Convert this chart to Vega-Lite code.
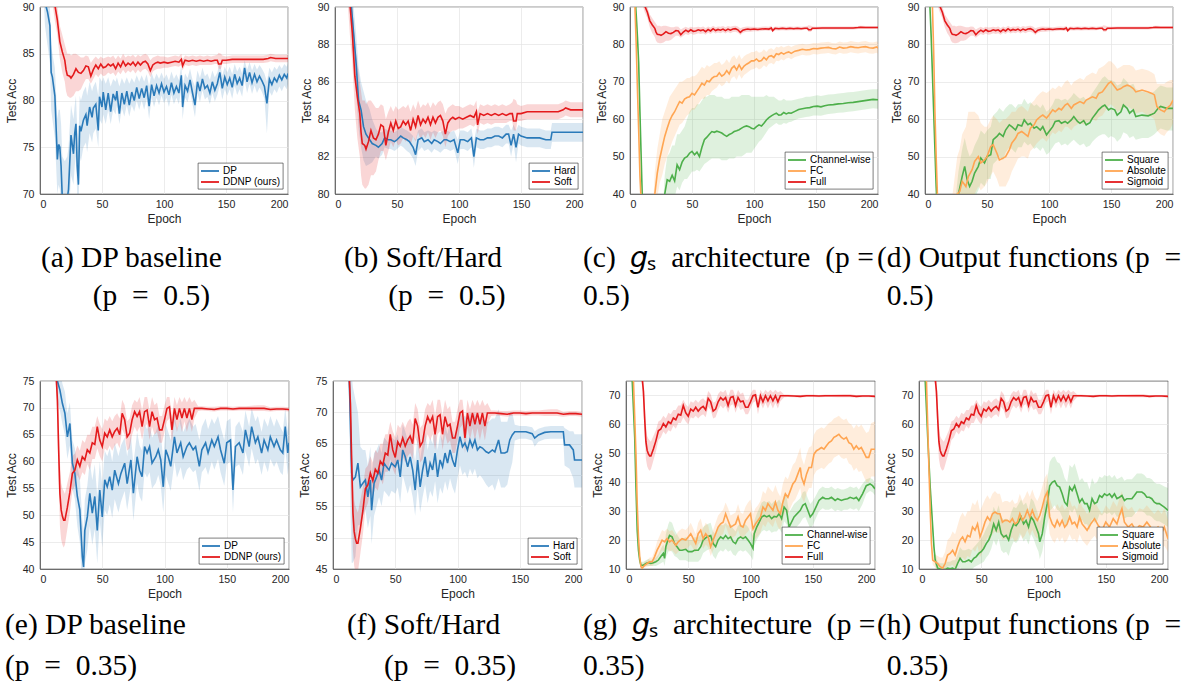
{
"$schema": "https://vega.github.io/schema/vega-lite/v6.json",
"background": "white",
"padding": {"left": 4, "top": 1, "right": 5, "bottom": 2},
"config": {
 "view": {"stroke": "#262626", "strokeWidth": 0.6},
 "axis": {"labelFont": "Liberation Sans", "labelFontSize": 10.6, "labelColor": "#262626", "titleFont": "Liberation Sans", "titleFontSize": 12, "titleFontWeight": "normal", "titleColor": "#262626", "domainColor": "#262626", "domainWidth": 0.6, "gridColor": "#e4e4e4", "gridWidth": 0.7, "ticks": false, "labelPadding": 6, "titlePadding": 4, "labelOverlap": false},
 "axisX": {"labelPadding": 5, "labelOverlap": false},
 "axisY": {"labelOverlap": false},
 "axisQuantitative": {"labelOverlap": false},
 "legend": {"orient": "bottom-right", "offset": 5, "padding": 2, "strokeColor": "#262626", "fillColor": "white", "symbolType": "M-1,0H2.6", "symbolSize": 100, "symbolStrokeWidth": 1.8, "labelFont": "Liberation Sans", "labelFontSize": 10, "labelColor": "black", "rowPadding": 0, "labelOffset": 11, "cornerRadius": 0, "strokeWidth": 0.6},
 "title": {"font": "Liberation Serif", "fontSize": 29.5, "fontWeight": "normal", "color": "black", "orient": "bottom", "anchor": "start", "frame": "group", "offset": 19}
},
"datasets": {
"A_DP": [{"x":1,"y":99,"l":97,"h":100},{"x":3,"y":94,"l":91,"h":96},{"x":4,"y":90.5,"l":88,"h":92},{"x":6,"y":89.5,"l":86,"h":91},{"x":8,"y":88,"l":84,"h":90},{"x":9,"y":83,"l":79,"h":86},{"x":10,"y":82.5,"l":78,"h":85},{"x":12,"y":80.5,"l":76,"h":83.5},{"x":14,"y":73.7,"l":70,"h":78},{"x":15,"y":75.3,"l":71,"h":79},{"x":16,"y":75,"l":70.5,"h":79},{"x":17,"y":73,"l":69,"h":77.5},{"x":18,"y":69.5,"l":66,"h":74},{"x":20,"y":69,"l":66,"h":73.5},{"x":22,"y":69.5,"l":66,"h":74},{"x":23,"y":70.5,"l":67,"h":75},{"x":25,"y":76.3,"l":72,"h":79.5},{"x":27,"y":74.3,"l":71,"h":78},{"x":28,"y":76.5,"l":73,"h":79.5},{"x":29,"y":77.5,"l":74,"h":80.5},{"x":30,"y":73,"l":70,"h":77},{"x":31,"y":71,"l":68,"h":76},{"x":32,"y":77.3,"l":74,"h":80.5},{"x":33,"y":76.7,"l":73.5,"h":80},{"x":35,"y":77.9,"l":75,"h":81},{"x":37,"y":78.5,"l":75.5,"h":81.5},{"x":38,"y":77.3,"l":74.5,"h":80.5},{"x":40,"y":79.3,"l":76.5,"h":82},{"x":42,"y":78.2,"l":75.5,"h":81},{"x":43,"y":79.2,"l":76.5,"h":81.5},{"x":45,"y":79.6,"l":77,"h":82},{"x":47,"y":76.8,"l":75,"h":80.5},{"x":48,"y":80.4,"l":78,"h":82.5},{"x":50,"y":79.3,"l":77.5,"h":82},{"x":51,"y":80.9,"l":78.5,"h":82.5},{"x":53,"y":79,"l":77.5,"h":81.8},{"x":55,"y":80.8,"l":79,"h":82.5},{"x":57,"y":78.8,"l":77.5,"h":81.5},{"x":59,"y":80.7,"l":79,"h":82.3},{"x":61,"y":80,"l":78.5,"h":82},{"x":62,"y":81,"l":79.5,"h":82.5},{"x":64,"y":78.6,"l":77.5,"h":81.5},{"x":66,"y":80.8,"l":79.2,"h":82.4},{"x":68,"y":79.6,"l":78.3,"h":81.8},{"x":70,"y":81,"l":79.5,"h":82.5},{"x":72,"y":79.5,"l":78.3,"h":81.8},{"x":74,"y":80.9,"l":79.5,"h":82.4},{"x":76,"y":80,"l":78.8,"h":81.9},{"x":78,"y":81.4,"l":80,"h":82.7},{"x":80,"y":80.2,"l":79,"h":82},{"x":82,"y":81.3,"l":80,"h":82.7},{"x":84,"y":80.3,"l":79,"h":82},{"x":86,"y":81.6,"l":80.2,"h":82.8},{"x":88,"y":79.4,"l":78,"h":81.5},{"x":90,"y":81.7,"l":80.3,"h":83},{"x":92,"y":80.5,"l":79.3,"h":82.2},{"x":94,"y":81.6,"l":80.3,"h":82.9},{"x":96,"y":80.8,"l":79.5,"h":82.3},{"x":98,"y":81.8,"l":80.5,"h":83},{"x":100,"y":80.9,"l":79.7,"h":82.3},{"x":102,"y":81.5,"l":80.3,"h":82.8},{"x":104,"y":80.6,"l":79.3,"h":82.1},{"x":106,"y":81.9,"l":80.6,"h":83.1},{"x":108,"y":80.8,"l":79.6,"h":82.3},{"x":110,"y":81.5,"l":80.3,"h":82.8},{"x":112,"y":80.8,"l":79.6,"h":82.2},{"x":114,"y":82.7,"l":81.3,"h":83.8},{"x":115,"y":79.3,"l":78,"h":81.5},{"x":117,"y":81.6,"l":80.3,"h":82.9},{"x":119,"y":81,"l":79.8,"h":82.4},{"x":121,"y":82.2,"l":81,"h":83.4},{"x":123,"y":80.8,"l":79.6,"h":82.2},{"x":125,"y":79.5,"l":78.2,"h":81.5},{"x":127,"y":82,"l":80.8,"h":83.2},{"x":129,"y":81,"l":79.8,"h":82.4},{"x":131,"y":82.3,"l":81.1,"h":83.5},{"x":133,"y":81.3,"l":80.1,"h":82.6},{"x":135,"y":81.6,"l":80.4,"h":82.9},{"x":137,"y":80.8,"l":79.6,"h":82.2},{"x":139,"y":82,"l":80.8,"h":83.2},{"x":141,"y":81.1,"l":79.9,"h":82.5},{"x":143,"y":81.8,"l":80.6,"h":83},{"x":145,"y":83,"l":81.6,"h":84.1},{"x":147,"y":81.3,"l":80.1,"h":82.7},{"x":149,"y":82.5,"l":81.2,"h":83.6},{"x":151,"y":81.7,"l":80.5,"h":83},{"x":153,"y":82.4,"l":81.2,"h":83.6},{"x":155,"y":81.4,"l":80.2,"h":82.8},{"x":157,"y":82.8,"l":81.6,"h":83.9},{"x":159,"y":81.8,"l":80.6,"h":83.1},{"x":161,"y":82.4,"l":81.2,"h":83.6},{"x":163,"y":81.6,"l":80.4,"h":82.9},{"x":165,"y":83.5,"l":82.2,"h":84.3},{"x":167,"y":82,"l":80.8,"h":83.3},{"x":169,"y":83,"l":81.8,"h":84.1},{"x":171,"y":81.9,"l":80.7,"h":83.2},{"x":173,"y":82.8,"l":81.6,"h":83.9},{"x":175,"y":82,"l":80.8,"h":83.3},{"x":177,"y":82.6,"l":81.4,"h":83.8},{"x":179,"y":82.1,"l":80.9,"h":83.4},{"x":181,"y":81.5,"l":80.2,"h":82.9},{"x":183,"y":79.7,"l":76.5,"h":82},{"x":185,"y":82.3,"l":81,"h":83.5},{"x":187,"y":81.7,"l":80.5,"h":83},{"x":189,"y":82.4,"l":81.2,"h":83.6},{"x":191,"y":82,"l":80.8,"h":83.3},{"x":193,"y":82.7,"l":81.5,"h":83.8},{"x":195,"y":82.2,"l":81,"h":83.4},{"x":197,"y":82.8,"l":81.6,"h":83.9},{"x":199,"y":82.4,"l":81.2,"h":83.6},{"x":200,"y":82.9,"l":81.8,"h":84}],
"R1": [{"x":1,"y":99,"l":98,"h":100},{"x":5,"y":96,"l":95,"h":97},{"x":10,"y":92,"l":90.5,"h":93.5},{"x":12,"y":90.2,"l":88.5,"h":91.5},{"x":14,"y":88.6,"l":87,"h":90},{"x":16,"y":86.3,"l":84.5,"h":88},{"x":18,"y":85.2,"l":83,"h":87},{"x":20,"y":84.3,"l":82,"h":86},{"x":21,"y":83.3,"l":81,"h":85.5},{"x":22,"y":82.7,"l":80.5,"h":85},{"x":24,"y":82.6,"l":80.3,"h":85},{"x":25,"y":82.4,"l":80.3,"h":84.8},{"x":27,"y":82.8,"l":80.5,"h":85},{"x":29,"y":83.4,"l":81,"h":85},{"x":31,"y":83,"l":81,"h":84.8},{"x":33,"y":82.9,"l":81.2,"h":84.6},{"x":35,"y":83.2,"l":81.8,"h":84.6},{"x":37,"y":83.7,"l":82.3,"h":84.8},{"x":39,"y":83.6,"l":82.3,"h":84.7},{"x":41,"y":82.6,"l":81.8,"h":84},{"x":43,"y":83.3,"l":82.3,"h":84.4},{"x":45,"y":83.8,"l":82.8,"h":84.7},{"x":47,"y":83.4,"l":82.5,"h":84.4},{"x":49,"y":83.9,"l":82.9,"h":84.7},{"x":51,"y":83.5,"l":82.6,"h":84.5},{"x":53,"y":83.6,"l":82.7,"h":84.6},{"x":55,"y":83.9,"l":83,"h":84.7},{"x":57,"y":83.7,"l":82.8,"h":84.6},{"x":59,"y":83.9,"l":83,"h":84.8},{"x":61,"y":83.4,"l":82.6,"h":84.4},{"x":63,"y":84,"l":83.1,"h":84.8},{"x":65,"y":83.6,"l":82.8,"h":84.5},{"x":67,"y":84.2,"l":83.3,"h":85},{"x":69,"y":83.7,"l":82.9,"h":84.6},{"x":71,"y":84,"l":83.2,"h":84.8},{"x":73,"y":83.8,"l":83,"h":84.7},{"x":75,"y":84.1,"l":83.3,"h":84.9},{"x":77,"y":83.7,"l":82.9,"h":84.6},{"x":79,"y":84.1,"l":83.3,"h":84.9},{"x":81,"y":83.8,"l":83,"h":84.7},{"x":83,"y":84.1,"l":83.3,"h":84.9},{"x":85,"y":84.2,"l":83.4,"h":85},{"x":87,"y":83.9,"l":83.1,"h":84.8},{"x":89,"y":83.2,"l":82.5,"h":84.3},{"x":91,"y":83.8,"l":83.1,"h":84.6},{"x":93,"y":84,"l":83.3,"h":84.7},{"x":95,"y":84.1,"l":83.4,"h":84.8},{"x":97,"y":84,"l":83.4,"h":84.7},{"x":100,"y":84.1,"l":83.5,"h":84.7},{"x":103,"y":84,"l":83.5,"h":84.6},{"x":106,"y":84.1,"l":83.6,"h":84.7},{"x":109,"y":84.2,"l":83.7,"h":84.8},{"x":112,"y":84.1,"l":83.6,"h":84.7},{"x":114,"y":84.4,"l":83.8,"h":85},{"x":115,"y":83.7,"l":83.2,"h":84.4},{"x":117,"y":84.3,"l":83.8,"h":84.8},{"x":120,"y":84.2,"l":83.7,"h":84.7},{"x":123,"y":84.3,"l":83.8,"h":84.8},{"x":126,"y":84.2,"l":83.7,"h":84.7},{"x":129,"y":84.3,"l":83.8,"h":84.8},{"x":132,"y":84.2,"l":83.8,"h":84.7},{"x":135,"y":84.3,"l":83.8,"h":84.8},{"x":138,"y":84.2,"l":83.8,"h":84.7},{"x":141,"y":84.3,"l":83.9,"h":84.8},{"x":143,"y":84.3,"l":83.9,"h":84.9},{"x":144,"y":83.9,"l":83.4,"h":85.1},{"x":146,"y":83.9,"l":83.4,"h":85},{"x":147,"y":84.3,"l":83.9,"h":84.8},{"x":150,"y":84.3,"l":83.9,"h":84.7},{"x":155,"y":84.4,"l":84,"h":84.8},{"x":160,"y":84.4,"l":84,"h":84.8},{"x":165,"y":84.4,"l":84,"h":84.8},{"x":170,"y":84.4,"l":84,"h":84.8},{"x":175,"y":84.4,"l":84,"h":84.8},{"x":180,"y":84.4,"l":84,"h":84.8},{"x":184,"y":84.5,"l":84.1,"h":84.9},{"x":186,"y":84.6,"l":84.2,"h":85},{"x":190,"y":84.5,"l":84.1,"h":84.9},{"x":195,"y":84.5,"l":84.1,"h":84.9},{"x":200,"y":84.5,"l":84.1,"h":84.9}],
"B_H": [{"x":1,"y":99,"l":98,"h":100},{"x":10,"y":93,"l":91.5,"h":94.5},{"x":13,"y":90.2,"l":88.7,"h":91.7},{"x":15,"y":88.6,"l":87.2,"h":90},{"x":17,"y":87,"l":85.5,"h":88.6},{"x":19,"y":85,"l":83.5,"h":86.8},{"x":21,"y":84.5,"l":82.5,"h":86},{"x":23,"y":83.6,"l":81.8,"h":85.5},{"x":25,"y":83.2,"l":81.5,"h":85},{"x":28,"y":82.9,"l":81.6,"h":84.5},{"x":30,"y":82.7,"l":81.7,"h":84},{"x":33,"y":82.6,"l":82,"h":83.5},{"x":35,"y":82.5,"l":81.9,"h":83.3},{"x":38,"y":82.7,"l":82.1,"h":83.3},{"x":40,"y":83,"l":82.5,"h":83.5},{"x":43,"y":82.9,"l":82.4,"h":83.4},{"x":45,"y":82.9,"l":82.4,"h":83.4},{"x":48,"y":82.8,"l":82.3,"h":83.3},{"x":50,"y":82.9,"l":82.4,"h":83.4},{"x":53,"y":83.1,"l":82.6,"h":83.6},{"x":55,"y":83,"l":82.5,"h":83.5},{"x":58,"y":82.9,"l":82.3,"h":83.4},{"x":60,"y":82.8,"l":82.2,"h":83.3},{"x":63,"y":82.5,"l":81.9,"h":83.1},{"x":65,"y":82.1,"l":81.5,"h":82.9},{"x":67,"y":82.9,"l":82.3,"h":83.4},{"x":70,"y":83,"l":82.5,"h":83.5},{"x":72,"y":82.8,"l":82.3,"h":83.3},{"x":75,"y":82.9,"l":82.4,"h":83.4},{"x":78,"y":82.7,"l":82.2,"h":83.3},{"x":80,"y":82.9,"l":82.4,"h":83.4},{"x":83,"y":82.8,"l":82.3,"h":83.3},{"x":85,"y":82.7,"l":82.2,"h":83.3},{"x":88,"y":82.9,"l":82.4,"h":83.4},{"x":90,"y":82.9,"l":82.4,"h":83.4},{"x":93,"y":82.8,"l":82.3,"h":83.3},{"x":96,"y":82.9,"l":82.4,"h":83.4},{"x":99,"y":82.2,"l":81.6,"h":82.9},{"x":101,"y":82.9,"l":82.4,"h":83.4},{"x":104,"y":82.9,"l":82.4,"h":83.4},{"x":107,"y":82.8,"l":82.3,"h":83.3},{"x":110,"y":83,"l":82.5,"h":83.5},{"x":112,"y":82,"l":81.4,"h":82.8},{"x":114,"y":83,"l":82.5,"h":83.5},{"x":117,"y":82.9,"l":82.4,"h":83.4},{"x":120,"y":82.9,"l":82.4,"h":83.4},{"x":123,"y":83,"l":82.5,"h":83.5},{"x":126,"y":83,"l":82.5,"h":83.5},{"x":129,"y":83.1,"l":82.6,"h":83.6},{"x":132,"y":83.1,"l":82.6,"h":83.6},{"x":135,"y":83,"l":82.5,"h":83.5},{"x":138,"y":83.2,"l":82.7,"h":83.7},{"x":140,"y":83.2,"l":82.7,"h":83.7},{"x":142,"y":82.6,"l":82,"h":83.4},{"x":144,"y":83.2,"l":82.7,"h":83.7},{"x":146,"y":82.5,"l":81.7,"h":83.4},{"x":148,"y":83.2,"l":82.7,"h":83.7},{"x":150,"y":83.1,"l":82.6,"h":83.6},{"x":155,"y":83,"l":82.5,"h":83.5},{"x":160,"y":83,"l":82.5,"h":83.5},{"x":165,"y":83,"l":82.5,"h":83.5},{"x":170,"y":82.9,"l":82.4,"h":83.4},{"x":174,"y":82.9,"l":82.4,"h":83.4},{"x":175,"y":83.3,"l":82.8,"h":83.8},{"x":180,"y":83.3,"l":82.8,"h":83.8},{"x":190,"y":83.3,"l":82.8,"h":83.8},{"x":200,"y":83.3,"l":82.8,"h":83.8}],
"C_CW": [{"x":1,"y":99,"l":98,"h":100},{"x":4,"y":93,"l":91,"h":95},{"x":5,"y":88,"l":86,"h":90},{"x":6,"y":82,"l":80,"h":84},{"x":7,"y":75,"l":73,"h":77},{"x":8,"y":62,"l":60,"h":64},{"x":9,"y":50,"l":48,"h":52},{"x":10,"y":38,"l":36,"h":40},{"x":12,"y":20,"l":18,"h":22},{"x":15,"y":12,"l":10,"h":14},{"x":20,"y":12,"l":10,"h":14},{"x":24,"y":20,"l":17,"h":23},{"x":27,"y":36,"l":33,"h":39},{"x":28,"y":40,"l":36,"h":45},{"x":30,"y":43.8,"l":39,"h":50},{"x":32,"y":43.4,"l":38.5,"h":51},{"x":34,"y":45,"l":40,"h":53},{"x":36,"y":43.5,"l":39,"h":53},{"x":38,"y":47.8,"l":42,"h":56},{"x":40,"y":46.5,"l":41,"h":56},{"x":42,"y":48.5,"l":43,"h":57},{"x":44,"y":49.6,"l":44,"h":58},{"x":46,"y":50,"l":44,"h":60},{"x":48,"y":50.9,"l":45,"h":62},{"x":50,"y":51.4,"l":46,"h":63},{"x":52,"y":50.5,"l":46,"h":63},{"x":54,"y":51.2,"l":46.5,"h":64},{"x":56,"y":50,"l":46,"h":64},{"x":58,"y":52.5,"l":47,"h":65},{"x":60,"y":54.5,"l":48,"h":66},{"x":62,"y":55.2,"l":48.5,"h":66},{"x":64,"y":56,"l":49,"h":66.5},{"x":66,"y":56.7,"l":49.5,"h":66.5},{"x":68,"y":56.5,"l":49.5,"h":66.5},{"x":70,"y":56.8,"l":49.5,"h":66},{"x":72,"y":56.6,"l":49.5,"h":66},{"x":74,"y":56.3,"l":49,"h":66},{"x":76,"y":55.8,"l":49,"h":65.5},{"x":78,"y":55.4,"l":49,"h":65.5},{"x":80,"y":55.9,"l":49.5,"h":65.5},{"x":82,"y":56.2,"l":49.5,"h":66},{"x":84,"y":56.7,"l":49.5,"h":66},{"x":86,"y":56.9,"l":50,"h":66},{"x":88,"y":57.2,"l":50,"h":66},{"x":90,"y":57.6,"l":50,"h":66.5},{"x":92,"y":58,"l":50.5,"h":66.5},{"x":94,"y":58.2,"l":51,"h":66.5},{"x":96,"y":58,"l":51,"h":66.5},{"x":98,"y":57.6,"l":51,"h":66},{"x":100,"y":57.4,"l":52,"h":66},{"x":102,"y":58,"l":53,"h":66},{"x":104,"y":58.5,"l":54,"h":66},{"x":106,"y":58.2,"l":54.5,"h":66},{"x":108,"y":58.9,"l":55.5,"h":66},{"x":110,"y":59.8,"l":56.5,"h":66.5},{"x":112,"y":60.4,"l":57.5,"h":66},{"x":114,"y":60.9,"l":58,"h":66},{"x":116,"y":61.3,"l":58.5,"h":66},{"x":118,"y":61.6,"l":59,"h":65.5},{"x":120,"y":61.1,"l":58.5,"h":65},{"x":122,"y":61.2,"l":58.5,"h":65},{"x":124,"y":61.8,"l":59,"h":65.5},{"x":126,"y":61.4,"l":58.8,"h":65},{"x":128,"y":61.7,"l":59.2,"h":65},{"x":130,"y":61.6,"l":59.3,"h":65},{"x":133,"y":62.1,"l":59.8,"h":65.2},{"x":136,"y":62.6,"l":60.2,"h":65.5},{"x":139,"y":62.8,"l":60.4,"h":65.7},{"x":142,"y":63,"l":60.6,"h":66},{"x":145,"y":63.1,"l":60.7,"h":66},{"x":148,"y":63.4,"l":61,"h":66.2},{"x":151,"y":63.5,"l":61,"h":66.4},{"x":154,"y":63.3,"l":60.9,"h":66.2},{"x":157,"y":63.6,"l":61.2,"h":66.4},{"x":160,"y":63.8,"l":61.4,"h":66.6},{"x":164,"y":63.9,"l":61.5,"h":66.7},{"x":168,"y":64.1,"l":61.7,"h":66.9},{"x":172,"y":64.2,"l":61.8,"h":67},{"x":176,"y":64.4,"l":62,"h":67.2},{"x":180,"y":64.5,"l":62.1,"h":67.3},{"x":184,"y":64.7,"l":62.3,"h":67.5},{"x":188,"y":64.9,"l":62.5,"h":67.7},{"x":192,"y":65.1,"l":62.7,"h":67.9},{"x":196,"y":65.3,"l":62.9,"h":68},{"x":200,"y":65.2,"l":62.8,"h":68}],
"C_FC": [{"x":1,"y":99,"l":98,"h":100},{"x":3,"y":95,"l":93,"h":97},{"x":4,"y":90,"l":88,"h":92},{"x":5,"y":80,"l":78,"h":82},{"x":6,"y":68,"l":66,"h":70},{"x":7,"y":57,"l":55,"h":59},{"x":8,"y":45,"l":43,"h":47},{"x":9,"y":38,"l":36,"h":40},{"x":12,"y":25,"l":23,"h":27},{"x":15,"y":20,"l":18,"h":22},{"x":18,"y":30,"l":27,"h":33},{"x":20,"y":40,"l":35,"h":46},{"x":22,"y":45.6,"l":39,"h":52},{"x":24,"y":49.5,"l":43,"h":56},{"x":26,"y":52.5,"l":45,"h":60},{"x":28,"y":55.4,"l":48,"h":62},{"x":30,"y":57.6,"l":50,"h":64},{"x":32,"y":59.6,"l":52,"h":66},{"x":34,"y":61,"l":54,"h":67},{"x":36,"y":62,"l":55.5,"h":68},{"x":38,"y":63.4,"l":57,"h":69},{"x":40,"y":64.7,"l":58.5,"h":70},{"x":42,"y":64.3,"l":59,"h":70},{"x":44,"y":65.4,"l":60,"h":70.5},{"x":46,"y":65.8,"l":61,"h":71},{"x":48,"y":66,"l":61.5,"h":71},{"x":50,"y":66.9,"l":62.5,"h":71.5},{"x":52,"y":66.5,"l":62.5,"h":71.5},{"x":54,"y":67.5,"l":63.5,"h":72},{"x":56,"y":68.5,"l":64.5,"h":73},{"x":58,"y":69.6,"l":65.5,"h":74},{"x":60,"y":69.1,"l":65.5,"h":73.5},{"x":62,"y":70.3,"l":66.5,"h":74.5},{"x":64,"y":70,"l":66.5,"h":74},{"x":66,"y":70.9,"l":67.5,"h":74.5},{"x":68,"y":71.4,"l":68,"h":75},{"x":70,"y":71.5,"l":68.5,"h":75},{"x":72,"y":72.4,"l":69.5,"h":75.5},{"x":74,"y":71.5,"l":68.8,"h":74.5},{"x":76,"y":72,"l":69.3,"h":75},{"x":78,"y":73,"l":70.3,"h":76},{"x":80,"y":72.1,"l":69.5,"h":75},{"x":82,"y":73.6,"l":71,"h":76.5},{"x":84,"y":74.2,"l":71.5,"h":77},{"x":86,"y":73.2,"l":70.5,"h":76},{"x":88,"y":74.5,"l":72,"h":77.3},{"x":90,"y":73.3,"l":70.8,"h":76},{"x":92,"y":74.2,"l":71.8,"h":76.8},{"x":94,"y":74.7,"l":72.3,"h":77.3},{"x":96,"y":75.1,"l":72.8,"h":77.6},{"x":98,"y":75.6,"l":73.3,"h":78},{"x":100,"y":75.6,"l":73.4,"h":78},{"x":102,"y":76.1,"l":73.9,"h":78.4},{"x":104,"y":75.5,"l":73.3,"h":77.8},{"x":106,"y":75.7,"l":73.6,"h":78},{"x":108,"y":76.5,"l":74.4,"h":78.7},{"x":110,"y":75.9,"l":73.9,"h":78},{"x":112,"y":76.8,"l":74.8,"h":78.8},{"x":114,"y":77,"l":75,"h":79},{"x":116,"y":76.5,"l":74.6,"h":78.5},{"x":118,"y":77.5,"l":75.6,"h":79.4},{"x":120,"y":77.3,"l":75.5,"h":79.2},{"x":122,"y":77.8,"l":76,"h":79.6},{"x":124,"y":77.4,"l":75.7,"h":79.2},{"x":126,"y":77.8,"l":76.2,"h":79.5},{"x":128,"y":78,"l":76.4,"h":79.7},{"x":130,"y":77.6,"l":76,"h":79.3},{"x":133,"y":78.2,"l":76.6,"h":79.8},{"x":136,"y":78.4,"l":76.9,"h":80},{"x":139,"y":78.7,"l":77.2,"h":80.2},{"x":142,"y":78.5,"l":77,"h":80},{"x":145,"y":78.6,"l":77.1,"h":80.1},{"x":148,"y":78.9,"l":77.4,"h":80.4},{"x":151,"y":78.8,"l":77.3,"h":80.3},{"x":154,"y":79,"l":77.5,"h":80.5},{"x":157,"y":79.1,"l":77.6,"h":80.6},{"x":160,"y":79.2,"l":77.7,"h":80.7},{"x":163,"y":78.9,"l":77.4,"h":80.4},{"x":166,"y":78.8,"l":77.3,"h":80.3},{"x":169,"y":79.3,"l":77.8,"h":80.8},{"x":172,"y":79,"l":77.5,"h":80.5},{"x":175,"y":79.1,"l":77.6,"h":80.6},{"x":178,"y":79.4,"l":77.9,"h":80.9},{"x":181,"y":79.2,"l":77.7,"h":80.7},{"x":184,"y":79.1,"l":77.6,"h":80.6},{"x":187,"y":79.3,"l":77.8,"h":80.8},{"x":190,"y":79.4,"l":77.9,"h":80.9},{"x":193,"y":79.1,"l":77.6,"h":80.6},{"x":196,"y":79,"l":77.5,"h":80.5},{"x":199,"y":79.3,"l":77.8,"h":80.8},{"x":200,"y":79,"l":77.5,"h":80.5}],
"D_SQ": [{"x":1,"y":99,"l":98,"h":100},{"x":3,"y":95,"l":93,"h":97},{"x":4,"y":90,"l":88,"h":92},{"x":5,"y":82,"l":80,"h":84},{"x":6,"y":72,"l":70,"h":74},{"x":7,"y":62,"l":60,"h":64},{"x":8,"y":52,"l":50,"h":54},{"x":9,"y":42,"l":40,"h":44},{"x":10,"y":35,"l":33,"h":37},{"x":15,"y":20,"l":17,"h":23},{"x":20,"y":25,"l":21,"h":29},{"x":25,"y":35,"l":30,"h":40},{"x":27,"y":40,"l":34,"h":46},{"x":30,"y":44.7,"l":38,"h":52},{"x":32,"y":47.4,"l":40,"h":55},{"x":34,"y":43.8,"l":37,"h":52},{"x":36,"y":42,"l":36,"h":50},{"x":38,"y":43.4,"l":37,"h":51},{"x":40,"y":45.6,"l":39,"h":53},{"x":43,"y":47.4,"l":41,"h":55},{"x":45,"y":49.6,"l":43,"h":57},{"x":48,"y":48.3,"l":42,"h":56},{"x":50,"y":50,"l":44,"h":57},{"x":53,"y":50.5,"l":44,"h":58},{"x":55,"y":54.5,"l":48,"h":61},{"x":58,"y":55.4,"l":49,"h":62},{"x":60,"y":56.2,"l":50,"h":63},{"x":63,"y":55.4,"l":49,"h":62},{"x":65,"y":57.1,"l":51,"h":63},{"x":68,"y":58.5,"l":52.5,"h":64},{"x":70,"y":58,"l":52,"h":64},{"x":73,"y":57.1,"l":51,"h":63},{"x":75,"y":58.5,"l":52.5,"h":64},{"x":78,"y":58.2,"l":52.5,"h":64},{"x":80,"y":59.8,"l":54,"h":65.5},{"x":83,"y":58.5,"l":53,"h":64},{"x":85,"y":58.9,"l":53.5,"h":64.5},{"x":88,"y":57.6,"l":52,"h":63.5},{"x":90,"y":58,"l":52.5,"h":64},{"x":93,"y":57.1,"l":51.5,"h":63},{"x":95,"y":58,"l":52.5,"h":64},{"x":98,"y":55.8,"l":50.5,"h":62},{"x":100,"y":56.7,"l":51,"h":62.5},{"x":103,"y":58,"l":52.5,"h":64},{"x":105,"y":59.4,"l":53.5,"h":65.5},{"x":108,"y":59.6,"l":54,"h":65.5},{"x":110,"y":58.9,"l":53,"h":65},{"x":113,"y":59.4,"l":53.5,"h":65.5},{"x":115,"y":58.9,"l":53,"h":65},{"x":118,"y":59.8,"l":54,"h":66},{"x":120,"y":60.7,"l":54.5,"h":67},{"x":123,"y":59.4,"l":53.5,"h":66},{"x":125,"y":58.9,"l":53,"h":65.5},{"x":128,"y":59.6,"l":53.5,"h":66},{"x":130,"y":58.5,"l":52.5,"h":65},{"x":133,"y":59.1,"l":53,"h":66},{"x":135,"y":60.3,"l":54,"h":67},{"x":138,"y":61.6,"l":55,"h":68.5},{"x":140,"y":62.5,"l":55.5,"h":69.5},{"x":143,"y":63.4,"l":56,"h":71},{"x":145,"y":63.8,"l":56,"h":71.5},{"x":148,"y":62.5,"l":55,"h":70.5},{"x":150,"y":62.9,"l":55.5,"h":70.5},{"x":153,"y":62.5,"l":55,"h":70},{"x":155,"y":61.1,"l":54,"h":69},{"x":158,"y":62,"l":55,"h":69.5},{"x":160,"y":63.8,"l":56.5,"h":71},{"x":163,"y":62.9,"l":56,"h":70},{"x":165,"y":61.6,"l":55,"h":69},{"x":168,"y":62.5,"l":55.5,"h":69.5},{"x":170,"y":60.7,"l":54.5,"h":68},{"x":175,"y":61.1,"l":55,"h":67.5},{"x":180,"y":60.9,"l":55,"h":67},{"x":183,"y":61.3,"l":55.5,"h":67},{"x":185,"y":61.6,"l":56,"h":67.5},{"x":188,"y":62.9,"l":57,"h":68.5},{"x":190,"y":63.4,"l":57.5,"h":69},{"x":195,"y":62.9,"l":57,"h":68.5},{"x":200,"y":62.9,"l":57,"h":68.5}],
"D_AB": [{"x":1,"y":99,"l":98,"h":100},{"x":5,"y":96,"l":94,"h":98},{"x":6,"y":90,"l":88,"h":92},{"x":7,"y":78,"l":76,"h":80},{"x":8,"y":62,"l":60,"h":64},{"x":9,"y":50,"l":48,"h":52},{"x":10,"y":40,"l":38,"h":42},{"x":11,"y":35,"l":33,"h":37},{"x":15,"y":22,"l":19,"h":25},{"x":20,"y":28,"l":22,"h":34},{"x":26,"y":40,"l":33,"h":50},{"x":28,"y":40.7,"l":33,"h":52},{"x":30,"y":43.4,"l":35,"h":56},{"x":33,"y":42,"l":34,"h":58},{"x":35,"y":44.7,"l":36,"h":62},{"x":38,"y":46.5,"l":38,"h":62},{"x":40,"y":48.7,"l":40,"h":62},{"x":43,"y":50,"l":42,"h":61},{"x":45,"y":48.3,"l":41,"h":59},{"x":48,"y":49.1,"l":42,"h":58},{"x":50,"y":50,"l":43,"h":58},{"x":53,"y":52.7,"l":45,"h":60},{"x":55,"y":53.2,"l":46,"h":61},{"x":58,"y":50.9,"l":44,"h":60},{"x":60,"y":49.1,"l":42,"h":59},{"x":63,"y":49.6,"l":42,"h":60},{"x":65,"y":50,"l":42,"h":60},{"x":68,"y":51.8,"l":44,"h":61},{"x":70,"y":53.6,"l":46,"h":62},{"x":73,"y":54.9,"l":48,"h":62},{"x":75,"y":56.2,"l":49.5,"h":63},{"x":78,"y":56.7,"l":50,"h":63.5},{"x":80,"y":56.2,"l":50,"h":63},{"x":83,"y":55.4,"l":49.5,"h":62},{"x":85,"y":57.6,"l":51.5,"h":64},{"x":88,"y":58.5,"l":52.5,"h":65},{"x":90,"y":59.8,"l":53.5,"h":66},{"x":93,"y":60.7,"l":54.5,"h":67},{"x":95,"y":61.1,"l":55,"h":67.5},{"x":98,"y":60.3,"l":54,"h":67},{"x":100,"y":61.1,"l":55,"h":67.5},{"x":103,"y":62.5,"l":56.5,"h":68.5},{"x":105,"y":62,"l":56,"h":68},{"x":108,"y":62.9,"l":57,"h":69},{"x":110,"y":62.5,"l":56.5,"h":68.5},{"x":113,"y":63.8,"l":58,"h":70},{"x":115,"y":64.2,"l":58,"h":70.5},{"x":118,"y":62.9,"l":57,"h":69},{"x":120,"y":63.8,"l":58,"h":70},{"x":125,"y":64.7,"l":59,"h":71},{"x":128,"y":64.2,"l":58.5,"h":70.5},{"x":130,"y":65.1,"l":59,"h":71.5},{"x":135,"y":66,"l":60,"h":72.5},{"x":138,"y":65.6,"l":59.5,"h":72},{"x":140,"y":66.9,"l":60.5,"h":73.5},{"x":143,"y":67.3,"l":61,"h":74},{"x":145,"y":68.2,"l":62,"h":74.5},{"x":148,"y":69.6,"l":63.5,"h":75.5},{"x":150,"y":70,"l":64,"h":75.5},{"x":153,"y":68.7,"l":63,"h":74.5},{"x":155,"y":67.8,"l":62,"h":73.5},{"x":158,"y":68.2,"l":62.5,"h":74},{"x":160,"y":68.7,"l":63,"h":74.5},{"x":163,"y":69.1,"l":63.5,"h":74.5},{"x":165,"y":68.9,"l":63,"h":74.5},{"x":168,"y":68.2,"l":62.5,"h":74},{"x":170,"y":67.3,"l":61.5,"h":73},{"x":175,"y":67.8,"l":62,"h":73.5},{"x":180,"y":67.3,"l":61,"h":73},{"x":183,"y":66.9,"l":60.5,"h":72.5},{"x":185,"y":66.5,"l":60,"h":72},{"x":187,"y":63.4,"l":57,"h":69.5},{"x":190,"y":62.5,"l":56,"h":69.5},{"x":193,"y":62,"l":55.5,"h":69.5},{"x":195,"y":62.9,"l":56.5,"h":70},{"x":198,"y":63.8,"l":57.5,"h":70.5},{"x":200,"y":65.1,"l":59,"h":70.5}],
"R2": [{"x":1,"y":95,"l":94,"h":96},{"x":10,"y":85,"l":83,"h":87},{"x":13,"y":76,"l":73,"h":79},{"x":14,"y":71.4,"l":67,"h":75},{"x":15,"y":62,"l":56,"h":68},{"x":16,"y":54,"l":48,"h":60},{"x":17,"y":51,"l":45.5,"h":56},{"x":18,"y":49.8,"l":44.5,"h":55},{"x":19,"y":49.1,"l":44,"h":54.5},{"x":20,"y":49.1,"l":44.5,"h":54},{"x":21,"y":50.3,"l":46,"h":55},{"x":22,"y":51.5,"l":47.5,"h":56},{"x":24,"y":54.3,"l":50.5,"h":58},{"x":26,"y":57.8,"l":54.5,"h":61},{"x":28,"y":58.4,"l":55.5,"h":61.5},{"x":30,"y":60.3,"l":57.5,"h":63},{"x":32,"y":59.1,"l":56.5,"h":62},{"x":34,"y":60.9,"l":58,"h":64},{"x":36,"y":60.3,"l":57.5,"h":63.5},{"x":38,"y":62.2,"l":59.5,"h":65},{"x":40,"y":61.6,"l":58.5,"h":65},{"x":42,"y":63.5,"l":60.5,"h":66.5},{"x":44,"y":63.2,"l":60.5,"h":66.5},{"x":46,"y":66.5,"l":62.5,"h":68.5},{"x":48,"y":64,"l":61,"h":67},{"x":50,"y":62.8,"l":60,"h":66},{"x":52,"y":65.3,"l":62.5,"h":68},{"x":54,"y":64.6,"l":62,"h":67.5},{"x":56,"y":65.9,"l":63,"h":68.5},{"x":58,"y":64.6,"l":62,"h":67.5},{"x":60,"y":65.6,"l":63,"h":68.5},{"x":62,"y":66.2,"l":63.5,"h":69},{"x":64,"y":65,"l":62.5,"h":68},{"x":66,"y":69,"l":66,"h":71.5},{"x":68,"y":67.8,"l":65,"h":70.5},{"x":70,"y":64.6,"l":62,"h":67.5},{"x":72,"y":65.3,"l":62.5,"h":68},{"x":74,"y":67.8,"l":65,"h":70.5},{"x":76,"y":69.3,"l":66.5,"h":71.5},{"x":78,"y":68.4,"l":65.5,"h":71},{"x":80,"y":69.3,"l":66.5,"h":72},{"x":82,"y":66.5,"l":64,"h":69.5},{"x":84,"y":69.3,"l":66.5,"h":72},{"x":86,"y":69.6,"l":67,"h":72},{"x":88,"y":66.5,"l":64,"h":69.5},{"x":90,"y":69.3,"l":66.5,"h":72},{"x":92,"y":67.8,"l":65,"h":70.5},{"x":94,"y":68.1,"l":65.5,"h":71},{"x":96,"y":65.9,"l":63.5,"h":68.5},{"x":98,"y":65.9,"l":63.5,"h":68.5},{"x":100,"y":67.8,"l":65.5,"h":70.5},{"x":102,"y":69.9,"l":67.5,"h":72},{"x":104,"y":70.2,"l":68,"h":72},{"x":106,"y":65.9,"l":63.5,"h":68.5},{"x":108,"y":69.9,"l":67.5,"h":72},{"x":110,"y":67.8,"l":65.5,"h":70.5},{"x":112,"y":69.9,"l":67.5,"h":72},{"x":114,"y":68.1,"l":65.5,"h":71},{"x":116,"y":69.9,"l":67.5,"h":72},{"x":118,"y":68.1,"l":65.5,"h":71},{"x":120,"y":69.9,"l":67.5,"h":72},{"x":122,"y":67.8,"l":65.5,"h":71},{"x":124,"y":69.9,"l":68,"h":71.5},{"x":127,"y":69.9,"l":69.4,"h":70.3},{"x":130,"y":69.9,"l":69.5,"h":70.3},{"x":135,"y":69.8,"l":69.4,"h":70.2},{"x":140,"y":69.7,"l":69.3,"h":70.2},{"x":145,"y":69.9,"l":69.5,"h":70.3},{"x":150,"y":69.9,"l":69.5,"h":70.3},{"x":155,"y":69.8,"l":69.4,"h":70.2},{"x":160,"y":69.9,"l":69.5,"h":70.3},{"x":165,"y":69.9,"l":69.5,"h":70.3},{"x":170,"y":69.9,"l":69.4,"h":70.4},{"x":175,"y":69.9,"l":69.4,"h":70.5},{"x":180,"y":69.9,"l":69.4,"h":70.5},{"x":185,"y":69.7,"l":69.3,"h":70.1},{"x":190,"y":69.8,"l":69.4,"h":70.2},{"x":195,"y":69.8,"l":69.4,"h":70.2},{"x":200,"y":69.7,"l":69.3,"h":70.1}],
"E_DP": [{"x":1,"y":95,"l":93,"h":97},{"x":10,"y":85,"l":82,"h":88},{"x":14,"y":75,"l":71,"h":79},{"x":16,"y":73.3,"l":69.5,"h":77},{"x":18,"y":70.8,"l":67,"h":74.5},{"x":20,"y":69,"l":65,"h":73},{"x":22,"y":64.6,"l":60.5,"h":69},{"x":24,"y":67.1,"l":63,"h":71},{"x":26,"y":59.7,"l":55,"h":64},{"x":28,"y":57.8,"l":53,"h":62.5},{"x":30,"y":53.5,"l":48,"h":59},{"x":32,"y":51,"l":45,"h":57},{"x":34,"y":42.3,"l":36,"h":49},{"x":35,"y":40.4,"l":34,"h":47},{"x":36,"y":47.2,"l":41,"h":53},{"x":38,"y":49.7,"l":43.5,"h":55.5},{"x":40,"y":54.1,"l":48,"h":60},{"x":42,"y":50.4,"l":44.5,"h":56.5},{"x":44,"y":53.5,"l":47.5,"h":59.5},{"x":46,"y":47.2,"l":41,"h":53.5},{"x":48,"y":54.7,"l":49,"h":60},{"x":50,"y":49.7,"l":44,"h":55.5},{"x":52,"y":56.6,"l":51,"h":62},{"x":54,"y":55.3,"l":50,"h":61},{"x":56,"y":57.2,"l":52,"h":62.5},{"x":58,"y":54.7,"l":49.5,"h":60},{"x":60,"y":58.4,"l":53,"h":63.5},{"x":63,"y":55.9,"l":50.5,"h":61},{"x":65,"y":57.8,"l":52.5,"h":63},{"x":68,"y":59.7,"l":54.5,"h":64.5},{"x":70,"y":55.9,"l":51,"h":61},{"x":73,"y":60.3,"l":55.5,"h":65},{"x":75,"y":54.1,"l":49,"h":59.5},{"x":78,"y":60.9,"l":56,"h":65.5},{"x":80,"y":58.4,"l":53.5,"h":63},{"x":82,"y":57.2,"l":52.5,"h":62},{"x":84,"y":62.8,"l":58,"h":67},{"x":86,"y":61.6,"l":57,"h":66},{"x":88,"y":62.8,"l":58,"h":67},{"x":90,"y":59.7,"l":55,"h":64.5},{"x":93,"y":60.9,"l":56,"h":65.5},{"x":95,"y":62.2,"l":57.5,"h":67},{"x":97,"y":60.3,"l":55.5,"h":65},{"x":99,"y":55.3,"l":50.5,"h":60.5},{"x":101,"y":62.2,"l":57.5,"h":67},{"x":103,"y":60.9,"l":56,"h":65.5},{"x":105,"y":59.1,"l":54.5,"h":64},{"x":108,"y":64.6,"l":60,"h":69},{"x":110,"y":61.6,"l":57,"h":66},{"x":113,"y":63.5,"l":59,"h":68},{"x":115,"y":60.9,"l":56.5,"h":65.5},{"x":118,"y":62.8,"l":58.5,"h":67},{"x":120,"y":63.5,"l":59,"h":68},{"x":123,"y":62.2,"l":58,"h":66.5},{"x":125,"y":62.8,"l":58.5,"h":67},{"x":128,"y":59.1,"l":54.5,"h":64},{"x":130,"y":62.2,"l":58,"h":66.5},{"x":133,"y":63.5,"l":59,"h":68},{"x":135,"y":61.6,"l":57.5,"h":66},{"x":138,"y":64,"l":60,"h":68},{"x":140,"y":62.8,"l":58.5,"h":67},{"x":143,"y":64.6,"l":60.5,"h":68.5},{"x":145,"y":62.2,"l":58,"h":66.5},{"x":148,"y":59.7,"l":55.5,"h":64},{"x":150,"y":63.5,"l":59.5,"h":67.5},{"x":153,"y":64,"l":60,"h":68},{"x":155,"y":54.7,"l":50.5,"h":59},{"x":157,"y":62.8,"l":59,"h":66.5},{"x":160,"y":63.5,"l":59.5,"h":67.5},{"x":163,"y":61.6,"l":57.5,"h":65.5},{"x":165,"y":65.9,"l":62,"h":69.5},{"x":168,"y":62.8,"l":59,"h":66.5},{"x":170,"y":66.5,"l":62.5,"h":70},{"x":173,"y":63.5,"l":59.5,"h":67.5},{"x":175,"y":64.6,"l":60.5,"h":68.5},{"x":178,"y":61.6,"l":57.5,"h":65.5},{"x":180,"y":64,"l":60,"h":68},{"x":183,"y":62.2,"l":58,"h":66.5},{"x":185,"y":64.6,"l":60.5,"h":68.5},{"x":188,"y":62.8,"l":59,"h":66.5},{"x":190,"y":64,"l":60,"h":68},{"x":193,"y":62.2,"l":58,"h":66.5},{"x":195,"y":61.6,"l":57.5,"h":65.5},{"x":197,"y":66.5,"l":62.5,"h":70},{"x":199,"y":61.6,"l":57.5,"h":65.5},{"x":200,"y":63.5,"l":59.5,"h":67.5}],
"F_H": [{"x":1,"y":95,"l":93,"h":97},{"x":10,"y":85,"l":82,"h":88},{"x":13,"y":76,"l":72,"h":80},{"x":14,"y":68,"l":55,"h":77},{"x":15,"y":60.3,"l":46,"h":76},{"x":16,"y":59.2,"l":46,"h":74},{"x":18,"y":59.7,"l":47,"h":72},{"x":20,"y":61.9,"l":52,"h":70},{"x":22,"y":58.1,"l":52,"h":64.5},{"x":24,"y":58.7,"l":53.5,"h":64},{"x":26,"y":59.2,"l":54.5,"h":64},{"x":28,"y":56.5,"l":51.5,"h":61.5},{"x":30,"y":59.2,"l":53.5,"h":64.5},{"x":31,"y":54.4,"l":49,"h":60},{"x":33,"y":58.7,"l":53.5,"h":63.5},{"x":35,"y":59.7,"l":55,"h":64},{"x":37,"y":60.8,"l":56.5,"h":65},{"x":39,"y":59.2,"l":55,"h":63.5},{"x":41,"y":61.9,"l":57.5,"h":66},{"x":43,"y":61.3,"l":57,"h":65.5},{"x":45,"y":60.8,"l":56.5,"h":65},{"x":47,"y":61.9,"l":57.5,"h":66},{"x":50,"y":61.3,"l":57,"h":65.5},{"x":52,"y":62.4,"l":58,"h":66.5},{"x":54,"y":59.7,"l":55.5,"h":64},{"x":56,"y":64,"l":60,"h":68},{"x":58,"y":62.9,"l":58.5,"h":67},{"x":60,"y":61.3,"l":57,"h":65.5},{"x":62,"y":62.9,"l":58.5,"h":67},{"x":64,"y":60.8,"l":56.5,"h":65},{"x":66,"y":57.6,"l":53.5,"h":62},{"x":68,"y":62.4,"l":58,"h":66.5},{"x":70,"y":58.1,"l":54,"h":62.5},{"x":72,"y":60.8,"l":56.5,"h":65},{"x":74,"y":62.9,"l":58.5,"h":67},{"x":76,"y":59.7,"l":55.5,"h":64},{"x":78,"y":61.9,"l":57.5,"h":66},{"x":80,"y":60.8,"l":56.5,"h":65},{"x":82,"y":63.5,"l":59,"h":68},{"x":84,"y":59.7,"l":55.5,"h":64},{"x":86,"y":62.4,"l":58,"h":66.5},{"x":88,"y":61.3,"l":57,"h":65.5},{"x":90,"y":63.5,"l":59,"h":68},{"x":92,"y":61.9,"l":57.5,"h":66.5},{"x":94,"y":64,"l":59.5,"h":68.5},{"x":96,"y":62.4,"l":58,"h":67},{"x":98,"y":61.3,"l":57,"h":66},{"x":100,"y":64,"l":59.5,"h":68.5},{"x":102,"y":66.1,"l":61.5,"h":70.5},{"x":104,"y":64.5,"l":60,"h":69},{"x":106,"y":65.1,"l":60.5,"h":69.5},{"x":108,"y":64,"l":59.5,"h":68.5},{"x":110,"y":65.6,"l":61,"h":70},{"x":112,"y":64.5,"l":60,"h":69},{"x":114,"y":65.6,"l":61,"h":70},{"x":116,"y":64,"l":59.5,"h":68.5},{"x":118,"y":64.5,"l":60,"h":69},{"x":120,"y":64.3,"l":59.5,"h":69},{"x":123,"y":63.7,"l":58.5,"h":68.5},{"x":125,"y":63.5,"l":58,"h":68.5},{"x":128,"y":64,"l":58.5,"h":69},{"x":130,"y":63.7,"l":57.5,"h":69},{"x":133,"y":65.6,"l":59.5,"h":70.5},{"x":135,"y":63.5,"l":58,"h":68.5},{"x":138,"y":63.5,"l":58,"h":68.5},{"x":140,"y":63.7,"l":58.5,"h":68.5},{"x":142,"y":65.6,"l":60.5,"h":70},{"x":144,"y":66.4,"l":62,"h":70},{"x":146,"y":66.9,"l":65.5,"h":68},{"x":150,"y":66.9,"l":65.8,"h":67.8},{"x":155,"y":66.9,"l":65.8,"h":67.8},{"x":160,"y":66.6,"l":65.5,"h":67.6},{"x":162,"y":65.9,"l":64.5,"h":67},{"x":165,"y":66.4,"l":65.3,"h":67.4},{"x":170,"y":66.8,"l":65.7,"h":67.7},{"x":175,"y":66.9,"l":65.8,"h":67.8},{"x":180,"y":66.9,"l":65.8,"h":67.8},{"x":185,"y":66.9,"l":65.8,"h":67.8},{"x":186,"y":64.8,"l":61.5,"h":67.5},{"x":190,"y":64.8,"l":61,"h":67},{"x":193,"y":64,"l":59.5,"h":67},{"x":194,"y":62.4,"l":58,"h":66.5},{"x":200,"y":62.4,"l":58,"h":66.5}],
"G_CW": [{"x":1,"y":95,"l":94,"h":96},{"x":3,"y":88,"l":87,"h":89},{"x":5,"y":75,"l":74,"h":76},{"x":7,"y":55.5,"l":54.5,"h":56.5},{"x":8,"y":38.3,"l":37,"h":39.5},{"x":9,"y":23.4,"l":22,"h":25},{"x":10,"y":16.5,"l":15,"h":18},{"x":11,"y":13.1,"l":12,"h":14.5},{"x":12,"y":11.3,"l":10.5,"h":12.5},{"x":14,"y":11.3,"l":10.5,"h":12.5},{"x":16,"y":11.9,"l":11,"h":13},{"x":18,"y":12.2,"l":11,"h":13.5},{"x":20,"y":11.9,"l":11,"h":13},{"x":22,"y":12.2,"l":11,"h":13.5},{"x":24,"y":12.5,"l":11,"h":14},{"x":26,"y":13.1,"l":11.5,"h":15},{"x":28,"y":14.3,"l":12,"h":17},{"x":30,"y":15.4,"l":12.5,"h":18.5},{"x":31,"y":13.7,"l":11,"h":17},{"x":32,"y":17.7,"l":14,"h":22},{"x":34,"y":20.5,"l":16,"h":25.5},{"x":35,"y":21.6,"l":16.5,"h":26.5},{"x":37,"y":21.1,"l":16,"h":26},{"x":39,"y":18.8,"l":14.5,"h":23.5},{"x":41,"y":17.7,"l":14,"h":22},{"x":43,"y":16.5,"l":13,"h":20.5},{"x":45,"y":16.5,"l":13,"h":20.5},{"x":48,"y":16.8,"l":13,"h":21},{"x":50,"y":16,"l":12.5,"h":20},{"x":53,"y":16,"l":12.5,"h":20},{"x":55,"y":16.5,"l":12.5,"h":21},{"x":58,"y":16.5,"l":12.5,"h":21},{"x":60,"y":17.7,"l":13.5,"h":22},{"x":62,"y":20,"l":15.5,"h":24.5},{"x":65,"y":21.1,"l":16.5,"h":25.5},{"x":68,"y":21.6,"l":17,"h":26},{"x":70,"y":18.8,"l":14.5,"h":23},{"x":72,"y":17.7,"l":13.5,"h":22},{"x":74,"y":20,"l":15.5,"h":24.5},{"x":76,"y":21.1,"l":16.5,"h":25.5},{"x":78,"y":20.5,"l":16,"h":25},{"x":80,"y":21.6,"l":17,"h":26},{"x":82,"y":20.5,"l":16,"h":25},{"x":84,"y":21.1,"l":16.5,"h":25.5},{"x":86,"y":19.4,"l":15,"h":24},{"x":88,"y":18.8,"l":14.5,"h":23},{"x":90,"y":20.5,"l":16,"h":25},{"x":92,"y":21.1,"l":16.5,"h":25.5},{"x":94,"y":20.5,"l":16,"h":25},{"x":96,"y":21.1,"l":16.5,"h":25.5},{"x":98,"y":20,"l":15.5,"h":24.5},{"x":100,"y":18.8,"l":14.5,"h":23},{"x":102,"y":17.1,"l":13,"h":21.5},{"x":103,"y":22.2,"l":18,"h":26.5},{"x":105,"y":24.5,"l":20,"h":29},{"x":107,"y":26.2,"l":21.5,"h":31},{"x":109,"y":28,"l":23,"h":33},{"x":111,"y":28.5,"l":23.5,"h":33.5},{"x":113,"y":28,"l":23,"h":33},{"x":115,"y":28.5,"l":23.5,"h":33.5},{"x":117,"y":27.4,"l":22.5,"h":32.5},{"x":119,"y":28.2,"l":23,"h":33.5},{"x":121,"y":28,"l":23,"h":33},{"x":123,"y":29.1,"l":24,"h":34},{"x":125,"y":27.4,"l":22.5,"h":32.5},{"x":127,"y":31.4,"l":26.5,"h":36},{"x":129,"y":30.3,"l":25.5,"h":35},{"x":131,"y":24.5,"l":20,"h":29.5},{"x":135,"y":28,"l":23.5,"h":32.5},{"x":140,"y":30.3,"l":26,"h":34.5},{"x":142,"y":32,"l":27.5,"h":36.5},{"x":144,"y":32.6,"l":28,"h":37},{"x":146,"y":30.3,"l":26,"h":34.5},{"x":148,"y":28,"l":24,"h":32.5},{"x":150,"y":29.1,"l":25,"h":33.5},{"x":152,"y":30.9,"l":27,"h":35},{"x":155,"y":33.7,"l":30,"h":37.5},{"x":158,"y":34.8,"l":31,"h":38.5},{"x":160,"y":34.3,"l":30.5,"h":38},{"x":163,"y":34.3,"l":30.5,"h":38},{"x":165,"y":34.8,"l":31,"h":38.5},{"x":168,"y":33.7,"l":30,"h":37.5},{"x":170,"y":34.3,"l":30.5,"h":38},{"x":173,"y":33.7,"l":30,"h":37.5},{"x":175,"y":34,"l":30.5,"h":37.5},{"x":178,"y":34.3,"l":30.5,"h":38},{"x":180,"y":34.8,"l":31,"h":38.5},{"x":183,"y":34.3,"l":30.5,"h":38},{"x":185,"y":34.8,"l":31,"h":38.5},{"x":187,"y":33.7,"l":30,"h":37.5},{"x":190,"y":36,"l":32.5,"h":39.5},{"x":193,"y":38.8,"l":36,"h":41},{"x":196,"y":39.4,"l":37,"h":41.5},{"x":198,"y":38.8,"l":36.5,"h":41},{"x":200,"y":37.7,"l":35.5,"h":40}],
"G_FC": [{"x":1,"y":95,"l":94,"h":96},{"x":4,"y":88,"l":87,"h":89},{"x":6,"y":75,"l":74,"h":76},{"x":8,"y":49.8,"l":48.5,"h":51},{"x":9,"y":32.6,"l":31,"h":34},{"x":10,"y":21.1,"l":19.5,"h":22.5},{"x":11,"y":14.3,"l":13,"h":15.5},{"x":12,"y":10.8,"l":10,"h":12},{"x":13,"y":10.3,"l":10,"h":11.5},{"x":15,"y":11.3,"l":10.5,"h":12.5},{"x":17,"y":11.9,"l":10.8,"h":13},{"x":19,"y":12.5,"l":11,"h":14},{"x":21,"y":12.5,"l":11,"h":14},{"x":23,"y":14.3,"l":12,"h":16.5},{"x":25,"y":16.5,"l":13.5,"h":19.5},{"x":27,"y":18.2,"l":15,"h":21.5},{"x":29,"y":20,"l":16.5,"h":23.5},{"x":31,"y":19.4,"l":16,"h":23},{"x":33,"y":20.5,"l":17,"h":24},{"x":35,"y":19.4,"l":16,"h":23},{"x":37,"y":20,"l":16.5,"h":23.5},{"x":40,"y":18.2,"l":15,"h":21.5},{"x":42,"y":19.4,"l":16,"h":23},{"x":45,"y":20.5,"l":17,"h":24},{"x":48,"y":20,"l":16.5,"h":23.5},{"x":50,"y":21.1,"l":17.5,"h":24.5},{"x":52,"y":22.2,"l":18.5,"h":26},{"x":54,"y":20.5,"l":17,"h":24},{"x":56,"y":18.8,"l":15.5,"h":22},{"x":58,"y":22.2,"l":18.5,"h":26},{"x":60,"y":23.4,"l":19.5,"h":27.5},{"x":62,"y":20.5,"l":17,"h":24},{"x":64,"y":22.2,"l":18.5,"h":26},{"x":66,"y":21.1,"l":17.5,"h":25},{"x":68,"y":17.7,"l":14.5,"h":21},{"x":70,"y":20,"l":16.5,"h":23.5},{"x":72,"y":22.2,"l":18.5,"h":26},{"x":74,"y":24.5,"l":20.5,"h":28.5},{"x":76,"y":25.6,"l":21.5,"h":29.5},{"x":78,"y":26.2,"l":22,"h":30.5},{"x":80,"y":29.1,"l":25,"h":33},{"x":82,"y":26.8,"l":22.5,"h":31},{"x":84,"y":24.5,"l":20.5,"h":28.5},{"x":86,"y":25,"l":21,"h":29},{"x":88,"y":25.6,"l":21.5,"h":29.5},{"x":90,"y":28,"l":23.5,"h":32.5},{"x":92,"y":25,"l":21,"h":29.5},{"x":94,"y":24.5,"l":20.5,"h":29},{"x":96,"y":26.8,"l":22,"h":31.5},{"x":98,"y":28,"l":23,"h":33},{"x":100,"y":29.1,"l":24,"h":34},{"x":102,"y":23.9,"l":19,"h":29},{"x":104,"y":25.6,"l":20.5,"h":31},{"x":106,"y":26.8,"l":21.5,"h":32},{"x":108,"y":28,"l":22.5,"h":33.5},{"x":110,"y":31.4,"l":25.5,"h":37},{"x":112,"y":30.3,"l":24.5,"h":36},{"x":114,"y":32.6,"l":26.5,"h":38.5},{"x":116,"y":31.4,"l":25.5,"h":37.5},{"x":118,"y":30.3,"l":24.5,"h":36.5},{"x":120,"y":33.1,"l":27,"h":39},{"x":122,"y":30.3,"l":24.5,"h":36.5},{"x":124,"y":29.1,"l":23.5,"h":35},{"x":126,"y":33.1,"l":27,"h":39.5},{"x":128,"y":36,"l":30,"h":42},{"x":130,"y":34.8,"l":29,"h":41},{"x":132,"y":37.1,"l":31,"h":43.5},{"x":134,"y":39.4,"l":33,"h":46},{"x":136,"y":40.5,"l":34,"h":47},{"x":138,"y":42.8,"l":36,"h":49.5},{"x":140,"y":45.1,"l":38,"h":52},{"x":141,"y":41.7,"l":35,"h":48.5},{"x":143,"y":39.4,"l":33,"h":46},{"x":145,"y":42.8,"l":36,"h":49.5},{"x":147,"y":45.1,"l":38,"h":52},{"x":149,"y":45.1,"l":38,"h":52.5},{"x":151,"y":49.7,"l":42.5,"h":56.5},{"x":153,"y":50.9,"l":44,"h":58},{"x":155,"y":51.4,"l":44.5,"h":58.5},{"x":157,"y":52,"l":45,"h":59},{"x":159,"y":51.4,"l":44.5,"h":58.5},{"x":161,"y":52.6,"l":45.5,"h":59.5},{"x":163,"y":53.7,"l":46.5,"h":60.5},{"x":165,"y":54.3,"l":47,"h":61},{"x":167,"y":55.5,"l":48.5,"h":62},{"x":169,"y":56,"l":49,"h":62.5},{"x":171,"y":56.6,"l":49.5,"h":63},{"x":173,"y":55.5,"l":48.5,"h":62},{"x":175,"y":54.9,"l":48,"h":61.5},{"x":177,"y":55.5,"l":48.5,"h":62},{"x":179,"y":53.7,"l":46.5,"h":60.5},{"x":181,"y":53.2,"l":46,"h":60},{"x":183,"y":51.4,"l":44,"h":58.5},{"x":185,"y":52.6,"l":45,"h":60},{"x":187,"y":51.4,"l":43.5,"h":59},{"x":189,"y":52,"l":44,"h":60},{"x":191,"y":50.3,"l":42,"h":58.5},{"x":193,"y":48.6,"l":40,"h":57},{"x":195,"y":48.6,"l":40,"h":57.5},{"x":197,"y":51.4,"l":42,"h":60.5},{"x":200,"y":51.4,"l":42,"h":61}],
"H_SQ": [{"x":1,"y":95,"l":94,"h":96},{"x":3,"y":88,"l":87,"h":89},{"x":5,"y":75,"l":74,"h":76},{"x":7,"y":55.5,"l":54,"h":57},{"x":9,"y":38.3,"l":36.5,"h":40},{"x":11,"y":24.5,"l":22.5,"h":26.5},{"x":12,"y":17.7,"l":15.5,"h":20},{"x":13,"y":13.1,"l":11,"h":15.5},{"x":15,"y":10.3,"l":9,"h":12.5},{"x":17,"y":10,"l":9,"h":12},{"x":19,"y":9.8,"l":9,"h":12},{"x":21,"y":9.8,"l":9,"h":12},{"x":23,"y":10.3,"l":9,"h":12.5},{"x":25,"y":10.1,"l":9,"h":12.5},{"x":27,"y":10.3,"l":9,"h":13},{"x":29,"y":9.8,"l":9,"h":13},{"x":31,"y":11.9,"l":9.5,"h":15},{"x":33,"y":13.7,"l":10.5,"h":17.5},{"x":35,"y":12.5,"l":9.5,"h":16.5},{"x":37,"y":12.5,"l":9.5,"h":16.5},{"x":40,"y":13.1,"l":10,"h":17},{"x":42,"y":12.5,"l":9.5,"h":16.5},{"x":44,"y":13.7,"l":10.5,"h":17.5},{"x":46,"y":14.3,"l":11,"h":18.5},{"x":48,"y":15.4,"l":11.5,"h":19.5},{"x":50,"y":16,"l":12,"h":20.5},{"x":52,"y":17.1,"l":12.5,"h":22},{"x":54,"y":18.8,"l":14,"h":24},{"x":56,"y":20,"l":15,"h":25.5},{"x":58,"y":22.2,"l":17,"h":28},{"x":60,"y":25.6,"l":20,"h":31.5},{"x":62,"y":23.4,"l":18,"h":29.5},{"x":64,"y":26.2,"l":20.5,"h":32},{"x":66,"y":22.2,"l":16.5,"h":28},{"x":68,"y":21.1,"l":15.5,"h":27},{"x":70,"y":21.6,"l":16,"h":27.5},{"x":72,"y":20,"l":14.5,"h":26},{"x":74,"y":23.4,"l":17.5,"h":29.5},{"x":76,"y":25.6,"l":19.5,"h":31.5},{"x":78,"y":25,"l":19,"h":31},{"x":80,"y":26.2,"l":20,"h":32.5},{"x":82,"y":28,"l":22,"h":34},{"x":84,"y":25.6,"l":19.5,"h":32},{"x":86,"y":26.8,"l":20.5,"h":33},{"x":88,"y":24.5,"l":18.5,"h":30.5},{"x":90,"y":28,"l":22,"h":34.5},{"x":92,"y":26.8,"l":20.5,"h":33.5},{"x":94,"y":24.5,"l":18,"h":31},{"x":96,"y":22.2,"l":16,"h":28.5},{"x":97,"y":19.4,"l":13.5,"h":26},{"x":99,"y":22.2,"l":16,"h":29},{"x":101,"y":28,"l":21,"h":36},{"x":103,"y":32.6,"l":25,"h":41},{"x":105,"y":38.8,"l":30,"h":47},{"x":107,"y":40,"l":31,"h":48.5},{"x":109,"y":40.5,"l":32,"h":49},{"x":111,"y":38.8,"l":30.5,"h":47},{"x":113,"y":38.3,"l":30,"h":46.5},{"x":115,"y":36,"l":28,"h":44.5},{"x":117,"y":33.1,"l":25.5,"h":41.5},{"x":119,"y":32,"l":24.5,"h":40},{"x":121,"y":38.3,"l":30.5,"h":46},{"x":123,"y":37.1,"l":29.5,"h":45},{"x":125,"y":38.8,"l":31,"h":46.5},{"x":127,"y":36,"l":28.5,"h":43.5},{"x":129,"y":33.1,"l":26,"h":40.5},{"x":131,"y":34.3,"l":27,"h":41.5},{"x":133,"y":32.6,"l":25.5,"h":40},{"x":135,"y":32.6,"l":25.5,"h":40},{"x":137,"y":30.3,"l":23.5,"h":37.5},{"x":139,"y":34.3,"l":27.5,"h":41.5},{"x":141,"y":32.6,"l":26,"h":39.5},{"x":143,"y":33.1,"l":26.5,"h":40},{"x":145,"y":35.4,"l":29,"h":42},{"x":147,"y":34.8,"l":28.5,"h":41.5},{"x":149,"y":36,"l":29.5,"h":42.5},{"x":151,"y":35.4,"l":29,"h":42},{"x":153,"y":36,"l":29.5,"h":42.5},{"x":155,"y":34.8,"l":28.5,"h":41.5},{"x":157,"y":36,"l":29.5,"h":42.5},{"x":159,"y":34.3,"l":28,"h":41},{"x":161,"y":34.8,"l":28.5,"h":41.5},{"x":163,"y":35.4,"l":29,"h":42},{"x":165,"y":33.7,"l":27.5,"h":40.5},{"x":167,"y":34.3,"l":28,"h":41},{"x":169,"y":34.3,"l":28,"h":41},{"x":171,"y":34.3,"l":28,"h":41},{"x":173,"y":35.4,"l":29,"h":42},{"x":175,"y":36.6,"l":30,"h":43},{"x":177,"y":36.6,"l":30,"h":43},{"x":179,"y":36.6,"l":30,"h":43},{"x":181,"y":36,"l":29.5,"h":42.5},{"x":183,"y":34.8,"l":28.5,"h":41.5},{"x":185,"y":34.8,"l":28.5,"h":41.5},{"x":187,"y":34.3,"l":28,"h":41},{"x":189,"y":33.1,"l":27,"h":40},{"x":191,"y":32.6,"l":26.5,"h":39.5},{"x":193,"y":32.6,"l":26.5,"h":39.5},{"x":195,"y":32,"l":26,"h":39},{"x":197,"y":31.4,"l":25.5,"h":38.5},{"x":200,"y":30.3,"l":24.5,"h":38}],
"H_AB": [{"x":1,"y":95,"l":94,"h":96},{"x":4,"y":88,"l":87,"h":89},{"x":6,"y":75,"l":74,"h":76},{"x":8,"y":44.4,"l":43,"h":46},{"x":9,"y":30.6,"l":29,"h":32.5},{"x":10,"y":18.8,"l":17,"h":20.5},{"x":11,"y":13.1,"l":11.5,"h":15},{"x":13,"y":12.5,"l":10.5,"h":15},{"x":15,"y":11.9,"l":9.5,"h":14.5},{"x":17,"y":10.8,"l":8.5,"h":14},{"x":19,"y":10.3,"l":8.5,"h":14},{"x":21,"y":11.9,"l":9,"h":16},{"x":23,"y":14.8,"l":11,"h":20},{"x":25,"y":15.4,"l":11,"h":21},{"x":27,"y":16.5,"l":11.5,"h":23},{"x":29,"y":14.8,"l":10,"h":22},{"x":31,"y":17.7,"l":12,"h":25},{"x":33,"y":20,"l":13.5,"h":28},{"x":35,"y":21.1,"l":14,"h":29.5},{"x":37,"y":19.4,"l":13,"h":28},{"x":39,"y":21.6,"l":14.5,"h":30},{"x":41,"y":21.1,"l":14,"h":30},{"x":43,"y":24.5,"l":17,"h":33},{"x":45,"y":23.4,"l":16,"h":32},{"x":47,"y":25.6,"l":18,"h":34},{"x":49,"y":21.1,"l":14,"h":30},{"x":51,"y":23.4,"l":16,"h":32},{"x":53,"y":26.2,"l":19,"h":34},{"x":55,"y":28,"l":21,"h":35.5},{"x":57,"y":26.8,"l":20,"h":34},{"x":59,"y":29.1,"l":22,"h":36},{"x":61,"y":29.7,"l":23,"h":37},{"x":63,"y":29.1,"l":22.5,"h":36},{"x":65,"y":29.1,"l":22.5,"h":36},{"x":67,"y":26.2,"l":20,"h":33},{"x":69,"y":26.8,"l":20.5,"h":33.5},{"x":71,"y":26.8,"l":20.5,"h":33.5},{"x":73,"y":26.2,"l":20,"h":33},{"x":75,"y":27.4,"l":21,"h":34},{"x":77,"y":25.6,"l":19.5,"h":32.5},{"x":79,"y":26.2,"l":20,"h":33},{"x":81,"y":29.1,"l":22.5,"h":36},{"x":83,"y":26.8,"l":20.5,"h":33.5},{"x":85,"y":28,"l":21.5,"h":35},{"x":87,"y":30.3,"l":23.5,"h":37},{"x":89,"y":28,"l":21.5,"h":35},{"x":91,"y":30.3,"l":23.5,"h":37.5},{"x":93,"y":28,"l":21.5,"h":35},{"x":95,"y":26.8,"l":20.5,"h":33.5},{"x":97,"y":28.5,"l":22,"h":35.5},{"x":99,"y":31.4,"l":24.5,"h":38.5},{"x":101,"y":34.8,"l":28,"h":41.5},{"x":103,"y":36.6,"l":30,"h":43},{"x":105,"y":28,"l":22,"h":34.5},{"x":107,"y":25.6,"l":20,"h":31.5},{"x":109,"y":24.5,"l":19,"h":30.5},{"x":111,"y":26.8,"l":21,"h":32.5},{"x":113,"y":25,"l":19.5,"h":31},{"x":115,"y":26.8,"l":21,"h":32.5},{"x":117,"y":24.5,"l":19,"h":30.5},{"x":119,"y":25.6,"l":20,"h":31.5},{"x":121,"y":28,"l":22,"h":34},{"x":123,"y":25.6,"l":20,"h":31.5},{"x":125,"y":26.2,"l":20.5,"h":32},{"x":127,"y":24.5,"l":19,"h":30.5},{"x":129,"y":28,"l":22,"h":34},{"x":131,"y":25.6,"l":20,"h":31.5},{"x":133,"y":24.5,"l":19,"h":30.5},{"x":135,"y":23.4,"l":18,"h":29},{"x":138,"y":25.6,"l":20,"h":31.5},{"x":141,"y":27.4,"l":21.5,"h":33.5},{"x":144,"y":25,"l":19.5,"h":31},{"x":147,"y":23.4,"l":18,"h":29},{"x":150,"y":26.2,"l":20.5,"h":32},{"x":153,"y":24.5,"l":19,"h":30.5},{"x":156,"y":27.4,"l":21.5,"h":33.5},{"x":159,"y":25.6,"l":20,"h":31.5},{"x":161,"y":28.5,"l":22.5,"h":34.5},{"x":163,"y":30.9,"l":24.5,"h":37},{"x":165,"y":26.2,"l":20.5,"h":32},{"x":168,"y":24.5,"l":19,"h":30.5},{"x":171,"y":25.6,"l":20,"h":31.5},{"x":174,"y":23.4,"l":18,"h":29},{"x":177,"y":25,"l":19.5,"h":31},{"x":180,"y":24.5,"l":19,"h":30.5},{"x":183,"y":26.2,"l":20.5,"h":32},{"x":186,"y":24.5,"l":19,"h":30.5},{"x":189,"y":23.4,"l":18,"h":29},{"x":192,"y":24.5,"l":18.5,"h":30.5},{"x":195,"y":22.5,"l":17,"h":29},{"x":197,"y":24.5,"l":18,"h":31},{"x":200,"y":20.5,"l":16,"h":27}]
},
"bounds": "flush",
"spacing": 374,
"resolve": {"scale": {"color": "independent"}, "legend": {"color": "independent"}},
"vconcat": [
{"hconcat": [
 {"width": 248, "height": 187,
  "title": {"text": ["(a) DP baseline", "\u200b\u00a0\u00a0\u00a0\u00a0\u00a0\u00a0\u00a0(p\u00a0 =\u00a0 0.5)"], "dx": 1, "lineHeight": 38},
  "encoding": {"x": {"field": "x", "type": "quantitative", "title": "Epoch", "scale": {"domain": [0, 200], "nice": false}, "axis": {"values": [0, 50, 100, 150, 200], "labelOverlap": false}}},
  "layer": [
   {"data": {"name": "A_DP"}, "mark": {"type": "area", "clip": true, "color": "#2a7ab9", "opacity": 0.18}, "encoding": {"y": {"field": "l", "type": "quantitative", "title": "Test Acc", "scale": {"domain": [70, 90], "nice": false, "zero": false}, "axis": {"values": [70, 75, 80, 85, 90], "labelOverlap": false}}, "y2": {"field": "h"}}},
   {"data": {"name": "R1"}, "mark": {"type": "area", "clip": true, "color": "#e41a1c", "opacity": 0.18}, "encoding": {"y": {"field": "l", "type": "quantitative", "title": "Test Acc", "scale": {"domain": [70, 90], "nice": false, "zero": false}, "axis": {"values": [70, 75, 80, 85, 90], "labelOverlap": false}}, "y2": {"field": "h"}}},
   {"data": {"name": "A_DP"}, "mark": {"type": "line", "clip": true, "strokeWidth": 1.6}, "encoding": {"y": {"field": "y", "type": "quantitative", "title": "Test Acc", "scale": {"domain": [70, 90], "nice": false, "zero": false}, "axis": {"values": [70, 75, 80, 85, 90], "labelOverlap": false}}, "color": {"datum": "DP", "type": "nominal", "scale": {"domain": ["DP", "DDNP (ours)"], "range": ["#2a7ab9", "#e41a1c"]}, "legend": {"title": null}}}},
   {"data": {"name": "R1"}, "mark": {"type": "line", "clip": true, "strokeWidth": 1.6}, "encoding": {"y": {"field": "y", "type": "quantitative", "title": "Test Acc", "scale": {"domain": [70, 90], "nice": false, "zero": false}, "axis": {"values": [70, 75, 80, 85, 90], "labelOverlap": false}}, "color": {"datum": "DDNP (ours)", "type": "nominal"}}}
  ]},
 {"width": 248, "height": 187,
  "title": {"text": ["(b) Soft/Hard", "\u200b\u00a0\u00a0\u00a0\u00a0\u00a0\u00a0(p\u00a0 =\u00a0 0.5)"], "dx": 9, "lineHeight": 38},
  "encoding": {"x": {"field": "x", "type": "quantitative", "title": "Epoch", "scale": {"domain": [0, 200], "nice": false}, "axis": {"values": [0, 50, 100, 150, 200], "labelOverlap": false}}},
  "layer": [
   {"data": {"name": "B_H"}, "mark": {"type": "area", "clip": true, "color": "#2a7ab9", "opacity": 0.18}, "encoding": {"y": {"field": "l", "type": "quantitative", "title": "Test Acc", "scale": {"domain": [80, 90], "nice": false, "zero": false}, "axis": {"values": [80, 82, 84, 86, 88, 90], "labelOverlap": false}}, "y2": {"field": "h"}}},
   {"data": {"name": "R1"}, "mark": {"type": "area", "clip": true, "color": "#e41a1c", "opacity": 0.18}, "encoding": {"y": {"field": "l", "type": "quantitative", "title": "Test Acc", "scale": {"domain": [80, 90], "nice": false, "zero": false}, "axis": {"values": [80, 82, 84, 86, 88, 90], "labelOverlap": false}}, "y2": {"field": "h"}}},
   {"data": {"name": "B_H"}, "mark": {"type": "line", "clip": true, "strokeWidth": 1.6}, "encoding": {"y": {"field": "y", "type": "quantitative", "title": "Test Acc", "scale": {"domain": [80, 90], "nice": false, "zero": false}, "axis": {"values": [80, 82, 84, 86, 88, 90], "labelOverlap": false}}, "color": {"datum": "Hard", "type": "nominal", "scale": {"domain": ["Hard", "Soft"], "range": ["#2a7ab9", "#e41a1c"]}, "legend": {"title": null}}}},
   {"data": {"name": "R1"}, "mark": {"type": "line", "clip": true, "strokeWidth": 1.6}, "encoding": {"y": {"field": "y", "type": "quantitative", "title": "Test Acc", "scale": {"domain": [80, 90], "nice": false, "zero": false}, "axis": {"values": [80, 82, 84, 86, 88, 90], "labelOverlap": false}}, "color": {"datum": "Soft", "type": "nominal"}}}
  ]},
 {"width": 248, "height": 187,
  "title": {"text": ["(c)\u00a0 𝑔ₛ\u00a0 architecture\u00a0 (p =", "0.5)"], "dx": -47, "lineHeight": 38},
  "encoding": {"x": {"field": "x", "type": "quantitative", "title": "Epoch", "scale": {"domain": [0, 200], "nice": false}, "axis": {"values": [0, 50, 100, 150, 200], "labelOverlap": false}}},
  "layer": [
   {"data": {"name": "C_CW"}, "mark": {"type": "area", "clip": true, "color": "#4daf4a", "opacity": 0.18}, "encoding": {"y": {"field": "l", "type": "quantitative", "title": "Test Acc", "scale": {"domain": [40, 90], "nice": false, "zero": false}, "axis": {"values": [40, 50, 60, 70, 80, 90], "labelOverlap": false}}, "y2": {"field": "h"}}},
   {"data": {"name": "C_FC"}, "mark": {"type": "area", "clip": true, "color": "#ffa552", "opacity": 0.2}, "encoding": {"y": {"field": "l", "type": "quantitative", "title": "Test Acc", "scale": {"domain": [40, 90], "nice": false, "zero": false}, "axis": {"values": [40, 50, 60, 70, 80, 90], "labelOverlap": false}}, "y2": {"field": "h"}}},
   {"data": {"name": "R1"}, "mark": {"type": "area", "clip": true, "color": "#e41a1c", "opacity": 0.18}, "encoding": {"y": {"field": "l", "type": "quantitative", "title": "Test Acc", "scale": {"domain": [40, 90], "nice": false, "zero": false}, "axis": {"values": [40, 50, 60, 70, 80, 90], "labelOverlap": false}}, "y2": {"field": "h"}}},
   {"data": {"name": "C_CW"}, "mark": {"type": "line", "clip": true, "strokeWidth": 1.6}, "encoding": {"y": {"field": "y", "type": "quantitative", "title": "Test Acc", "scale": {"domain": [40, 90], "nice": false, "zero": false}, "axis": {"values": [40, 50, 60, 70, 80, 90], "labelOverlap": false}}, "color": {"datum": "Channel-wise", "type": "nominal", "scale": {"domain": ["Channel-wise", "FC", "Full"], "range": ["#4daf4a", "#ffa552", "#e41a1c"]}, "legend": {"title": null}}}},
   {"data": {"name": "C_FC"}, "mark": {"type": "line", "clip": true, "strokeWidth": 1.6}, "encoding": {"y": {"field": "y", "type": "quantitative", "title": "Test Acc", "scale": {"domain": [40, 90], "nice": false, "zero": false}, "axis": {"values": [40, 50, 60, 70, 80, 90], "labelOverlap": false}}, "color": {"datum": "FC", "type": "nominal"}}},
   {"data": {"name": "R1"}, "mark": {"type": "line", "clip": true, "strokeWidth": 1.6}, "encoding": {"y": {"field": "y", "type": "quantitative", "title": "Test Acc", "scale": {"domain": [40, 90], "nice": false, "zero": false}, "axis": {"values": [40, 50, 60, 70, 80, 90], "labelOverlap": false}}, "color": {"datum": "Full", "type": "nominal"}}}
  ]},
 {"width": 248, "height": 187,
  "title": {"text": ["(d) Output functions (p\u00a0 =", "\u200b\u00a0\u200a0.5)"], "dx": -48, "lineHeight": 38},
  "encoding": {"x": {"field": "x", "type": "quantitative", "title": "Epoch", "scale": {"domain": [0, 200], "nice": false}, "axis": {"values": [0, 50, 100, 150, 200], "labelOverlap": false}}},
  "layer": [
   {"data": {"name": "D_SQ"}, "mark": {"type": "area", "clip": true, "color": "#4daf4a", "opacity": 0.18}, "encoding": {"y": {"field": "l", "type": "quantitative", "title": "Test Acc", "scale": {"domain": [40, 90], "nice": false, "zero": false}, "axis": {"values": [40, 50, 60, 70, 80, 90], "labelOverlap": false}}, "y2": {"field": "h"}}},
   {"data": {"name": "D_AB"}, "mark": {"type": "area", "clip": true, "color": "#ffa552", "opacity": 0.2}, "encoding": {"y": {"field": "l", "type": "quantitative", "title": "Test Acc", "scale": {"domain": [40, 90], "nice": false, "zero": false}, "axis": {"values": [40, 50, 60, 70, 80, 90], "labelOverlap": false}}, "y2": {"field": "h"}}},
   {"data": {"name": "R1"}, "mark": {"type": "area", "clip": true, "color": "#e41a1c", "opacity": 0.18}, "encoding": {"y": {"field": "l", "type": "quantitative", "title": "Test Acc", "scale": {"domain": [40, 90], "nice": false, "zero": false}, "axis": {"values": [40, 50, 60, 70, 80, 90], "labelOverlap": false}}, "y2": {"field": "h"}}},
   {"data": {"name": "D_SQ"}, "mark": {"type": "line", "clip": true, "strokeWidth": 1.6}, "encoding": {"y": {"field": "y", "type": "quantitative", "title": "Test Acc", "scale": {"domain": [40, 90], "nice": false, "zero": false}, "axis": {"values": [40, 50, 60, 70, 80, 90], "labelOverlap": false}}, "color": {"datum": "Square", "type": "nominal", "scale": {"domain": ["Square", "Absolute", "Sigmoid"], "range": ["#4daf4a", "#ffa552", "#e41a1c"]}, "legend": {"title": null}}}},
   {"data": {"name": "D_AB"}, "mark": {"type": "line", "clip": true, "strokeWidth": 1.6}, "encoding": {"y": {"field": "y", "type": "quantitative", "title": "Test Acc", "scale": {"domain": [40, 90], "nice": false, "zero": false}, "axis": {"values": [40, 50, 60, 70, 80, 90], "labelOverlap": false}}, "color": {"datum": "Absolute", "type": "nominal"}}},
   {"data": {"name": "R1"}, "mark": {"type": "line", "clip": true, "strokeWidth": 1.6}, "encoding": {"y": {"field": "y", "type": "quantitative", "title": "Test Acc", "scale": {"domain": [40, 90], "nice": false, "zero": false}, "axis": {"values": [40, 50, 60, 70, 80, 90], "labelOverlap": false}}, "color": {"datum": "Sigmoid", "type": "nominal"}}}
  ]}
 ], "spacing": 47, "bounds": "flush", "resolve": {"scale": {"color": "independent"}, "legend": {"color": "independent"}}},
{"hconcat": [
 {"width": 249, "height": 188,
  "title": {"text": ["(e) DP baseline", "(p\u00a0 =\u00a0 0.35)"], "dx": -35, "offset": 11, "lineHeight": 41},
  "encoding": {"x": {"field": "x", "type": "quantitative", "title": "Epoch", "scale": {"domain": [0, 200], "nice": false}, "axis": {"values": [0, 50, 100, 150, 200], "labelOverlap": false}}},
  "layer": [
   {"data": {"name": "E_DP"}, "mark": {"type": "area", "clip": true, "color": "#2a7ab9", "opacity": 0.18}, "encoding": {"y": {"field": "l", "type": "quantitative", "title": "Test Acc", "scale": {"domain": [40, 75], "nice": false, "zero": false}, "axis": {"values": [40, 45, 50, 55, 60, 65, 70, 75], "labelOverlap": false}}, "y2": {"field": "h"}}},
   {"data": {"name": "R2"}, "mark": {"type": "area", "clip": true, "color": "#e41a1c", "opacity": 0.18}, "encoding": {"y": {"field": "l", "type": "quantitative", "title": "Test Acc", "scale": {"domain": [40, 75], "nice": false, "zero": false}, "axis": {"values": [40, 45, 50, 55, 60, 65, 70, 75], "labelOverlap": false}}, "y2": {"field": "h"}}},
   {"data": {"name": "E_DP"}, "mark": {"type": "line", "clip": true, "strokeWidth": 1.6}, "encoding": {"y": {"field": "y", "type": "quantitative", "title": "Test Acc", "scale": {"domain": [40, 75], "nice": false, "zero": false}, "axis": {"values": [40, 45, 50, 55, 60, 65, 70, 75], "labelOverlap": false}}, "color": {"datum": "DP", "type": "nominal", "scale": {"domain": ["DP", "DDNP (ours)"], "range": ["#2a7ab9", "#e41a1c"]}, "legend": {"title": null}}}},
   {"data": {"name": "R2"}, "mark": {"type": "line", "clip": true, "strokeWidth": 1.6}, "encoding": {"y": {"field": "y", "type": "quantitative", "title": "Test Acc", "scale": {"domain": [40, 75], "nice": false, "zero": false}, "axis": {"values": [40, 45, 50, 55, 60, 65, 70, 75], "labelOverlap": false}}, "color": {"datum": "DDNP (ours)", "type": "nominal"}}}
  ]},
 {"width": 249, "height": 188,
  "title": {"text": ["(f) Soft/Hard", "\u200b\u00a0\u00a0\u00a0\u00a0\u00a0(p\u00a0 =\u00a0 0.35)"], "dx": 14, "offset": 11, "lineHeight": 41},
  "encoding": {"x": {"field": "x", "type": "quantitative", "title": "Epoch", "scale": {"domain": [0, 200], "nice": false}, "axis": {"values": [0, 50, 100, 150, 200], "labelOverlap": false}}},
  "layer": [
   {"data": {"name": "F_H"}, "mark": {"type": "area", "clip": true, "color": "#2a7ab9", "opacity": 0.18}, "encoding": {"y": {"field": "l", "type": "quantitative", "title": "Test Acc", "scale": {"domain": [45, 75], "nice": false, "zero": false}, "axis": {"values": [45, 50, 55, 60, 65, 70, 75], "labelOverlap": false}}, "y2": {"field": "h"}}},
   {"data": {"name": "R2"}, "mark": {"type": "area", "clip": true, "color": "#e41a1c", "opacity": 0.18}, "encoding": {"y": {"field": "l", "type": "quantitative", "title": "Test Acc", "scale": {"domain": [45, 75], "nice": false, "zero": false}, "axis": {"values": [45, 50, 55, 60, 65, 70, 75], "labelOverlap": false}}, "y2": {"field": "h"}}},
   {"data": {"name": "F_H"}, "mark": {"type": "line", "clip": true, "strokeWidth": 1.6}, "encoding": {"y": {"field": "y", "type": "quantitative", "title": "Test Acc", "scale": {"domain": [45, 75], "nice": false, "zero": false}, "axis": {"values": [45, 50, 55, 60, 65, 70, 75], "labelOverlap": false}}, "color": {"datum": "Hard", "type": "nominal", "scale": {"domain": ["Hard", "Soft"], "range": ["#2a7ab9", "#e41a1c"]}, "legend": {"title": null}}}},
   {"data": {"name": "R2"}, "mark": {"type": "line", "clip": true, "strokeWidth": 1.6}, "encoding": {"y": {"field": "y", "type": "quantitative", "title": "Test Acc", "scale": {"domain": [45, 75], "nice": false, "zero": false}, "axis": {"values": [45, 50, 55, 60, 65, 70, 75], "labelOverlap": false}}, "color": {"datum": "Soft", "type": "nominal"}}}
  ]},
 {"width": 249, "height": 188,
  "title": {"text": ["(g)\u00a0 𝑔ₛ\u00a0 architecture\u00a0 (p =", "0.35)"], "dx": -43, "offset": 11, "lineHeight": 41},
  "encoding": {"x": {"field": "x", "type": "quantitative", "title": "Epoch", "scale": {"domain": [0, 200], "nice": false}, "axis": {"values": [0, 50, 100, 150, 200], "labelOverlap": false}}},
  "layer": [
   {"data": {"name": "G_CW"}, "mark": {"type": "area", "clip": true, "color": "#4daf4a", "opacity": 0.18}, "encoding": {"y": {"field": "l", "type": "quantitative", "title": "Test Acc", "scale": {"domain": [10, 75], "nice": false, "zero": false}, "axis": {"values": [10, 20, 30, 40, 50, 60, 70], "labelOverlap": false}}, "y2": {"field": "h"}}},
   {"data": {"name": "G_FC"}, "mark": {"type": "area", "clip": true, "color": "#ffa552", "opacity": 0.2}, "encoding": {"y": {"field": "l", "type": "quantitative", "title": "Test Acc", "scale": {"domain": [10, 75], "nice": false, "zero": false}, "axis": {"values": [10, 20, 30, 40, 50, 60, 70], "labelOverlap": false}}, "y2": {"field": "h"}}},
   {"data": {"name": "R2"}, "mark": {"type": "area", "clip": true, "color": "#e41a1c", "opacity": 0.18}, "encoding": {"y": {"field": "l", "type": "quantitative", "title": "Test Acc", "scale": {"domain": [10, 75], "nice": false, "zero": false}, "axis": {"values": [10, 20, 30, 40, 50, 60, 70], "labelOverlap": false}}, "y2": {"field": "h"}}},
   {"data": {"name": "G_CW"}, "mark": {"type": "line", "clip": true, "strokeWidth": 1.6}, "encoding": {"y": {"field": "y", "type": "quantitative", "title": "Test Acc", "scale": {"domain": [10, 75], "nice": false, "zero": false}, "axis": {"values": [10, 20, 30, 40, 50, 60, 70], "labelOverlap": false}}, "color": {"datum": "Channel-wise", "type": "nominal", "scale": {"domain": ["Channel-wise", "FC", "Full"], "range": ["#4daf4a", "#ffa552", "#e41a1c"]}, "legend": {"title": null}}}},
   {"data": {"name": "G_FC"}, "mark": {"type": "line", "clip": true, "strokeWidth": 1.6}, "encoding": {"y": {"field": "y", "type": "quantitative", "title": "Test Acc", "scale": {"domain": [10, 75], "nice": false, "zero": false}, "axis": {"values": [10, 20, 30, 40, 50, 60, 70], "labelOverlap": false}}, "color": {"datum": "FC", "type": "nominal"}}},
   {"data": {"name": "R2"}, "mark": {"type": "line", "clip": true, "strokeWidth": 1.6}, "encoding": {"y": {"field": "y", "type": "quantitative", "title": "Test Acc", "scale": {"domain": [10, 75], "nice": false, "zero": false}, "axis": {"values": [10, 20, 30, 40, 50, 60, 70], "labelOverlap": false}}, "color": {"datum": "Full", "type": "nominal"}}}
  ]},
 {"width": 249, "height": 188,
  "title": {"text": ["(h) Output functions (p\u00a0 =", "\u200b\u00a0\u200a0.35)"], "dx": -42, "offset": 11, "lineHeight": 41},
  "encoding": {"x": {"field": "x", "type": "quantitative", "title": "Epoch", "scale": {"domain": [0, 200], "nice": false}, "axis": {"values": [0, 50, 100, 150, 200], "labelOverlap": false}}},
  "layer": [
   {"data": {"name": "H_SQ"}, "mark": {"type": "area", "clip": true, "color": "#4daf4a", "opacity": 0.18}, "encoding": {"y": {"field": "l", "type": "quantitative", "title": "Test Acc", "scale": {"domain": [10, 75], "nice": false, "zero": false}, "axis": {"values": [10, 20, 30, 40, 50, 60, 70], "labelOverlap": false}}, "y2": {"field": "h"}}},
   {"data": {"name": "H_AB"}, "mark": {"type": "area", "clip": true, "color": "#ffa552", "opacity": 0.2}, "encoding": {"y": {"field": "l", "type": "quantitative", "title": "Test Acc", "scale": {"domain": [10, 75], "nice": false, "zero": false}, "axis": {"values": [10, 20, 30, 40, 50, 60, 70], "labelOverlap": false}}, "y2": {"field": "h"}}},
   {"data": {"name": "R2"}, "mark": {"type": "area", "clip": true, "color": "#e41a1c", "opacity": 0.18}, "encoding": {"y": {"field": "l", "type": "quantitative", "title": "Test Acc", "scale": {"domain": [10, 75], "nice": false, "zero": false}, "axis": {"values": [10, 20, 30, 40, 50, 60, 70], "labelOverlap": false}}, "y2": {"field": "h"}}},
   {"data": {"name": "H_SQ"}, "mark": {"type": "line", "clip": true, "strokeWidth": 1.6}, "encoding": {"y": {"field": "y", "type": "quantitative", "title": "Test Acc", "scale": {"domain": [10, 75], "nice": false, "zero": false}, "axis": {"values": [10, 20, 30, 40, 50, 60, 70], "labelOverlap": false}}, "color": {"datum": "Square", "type": "nominal", "scale": {"domain": ["Square", "Absolute", "Sigmoid"], "range": ["#4daf4a", "#ffa552", "#e41a1c"]}, "legend": {"title": null}}}},
   {"data": {"name": "H_AB"}, "mark": {"type": "line", "clip": true, "strokeWidth": 1.6}, "encoding": {"y": {"field": "y", "type": "quantitative", "title": "Test Acc", "scale": {"domain": [10, 75], "nice": false, "zero": false}, "axis": {"values": [10, 20, 30, 40, 50, 60, 70], "labelOverlap": false}}, "color": {"datum": "Absolute", "type": "nominal"}}},
   {"data": {"name": "R2"}, "mark": {"type": "line", "clip": true, "strokeWidth": 1.6}, "encoding": {"y": {"field": "y", "type": "quantitative", "title": "Test Acc", "scale": {"domain": [10, 75], "nice": false, "zero": false}, "axis": {"values": [10, 20, 30, 40, 50, 60, 70], "labelOverlap": false}}, "color": {"datum": "Sigmoid", "type": "nominal"}}}
  ]}
 ], "spacing": 44, "bounds": "flush", "resolve": {"scale": {"color": "independent"}, "legend": {"color": "independent"}}}
]
}
